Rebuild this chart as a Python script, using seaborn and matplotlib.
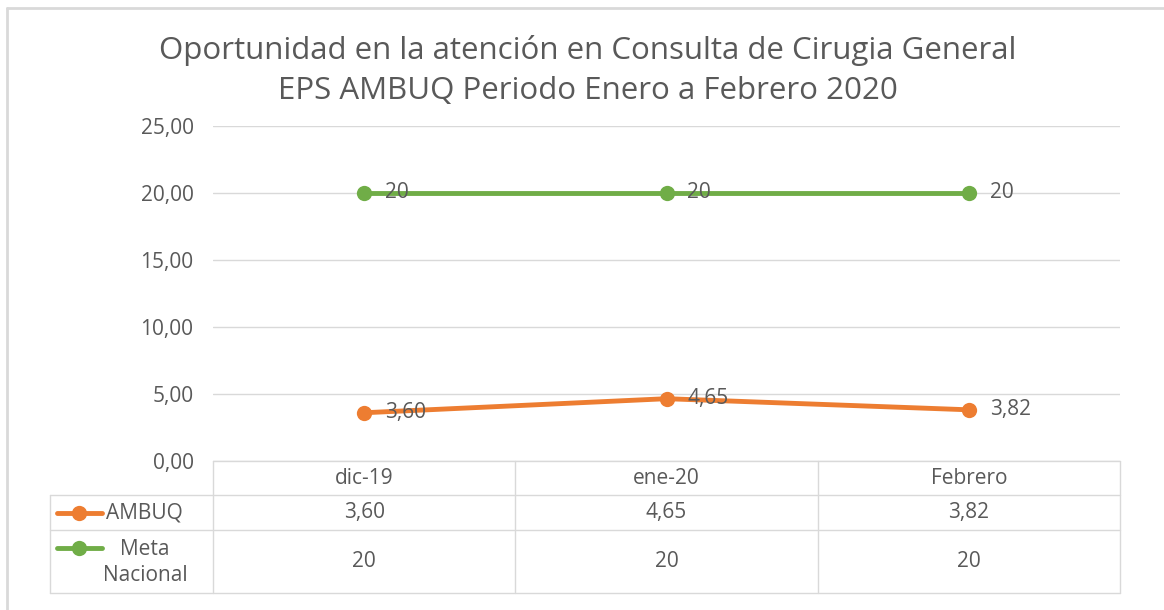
import pandas as pd
import matplotlib.pyplot as plt
from matplotlib.lines import Line2D
import seaborn as sns

# === DATOS ===
periodos = ["dic-19", "ene-20", "Febrero"]
ambuq = [3.60, 4.65, 3.82]
meta_nacional = [20, 20, 20]
series = ["AMBUQ", "Meta Nacional"]
colores = ["#ED7D31", "#70AD47"]
etiquetas_tabla = [["3,60", "4,65", "3,82"], ["20", "20", "20"]]
yticks = [0, 5, 10, 15, 20, 25]
titulo = "Oportunidad en la atención en Consulta de Cirugia General\nEPS AMBUQ Periodo Enero a Febrero 2020"

df = pd.DataFrame({
    "Periodo": periodos * 2,
    "Valor": ambuq + meta_nacional,
    "Serie": ["AMBUQ"] * 3 + ["Meta Nacional"] * 3,
})

sns.set_style("white")
plt.rcParams["font.family"] = ["Open Sans", "DejaVu Sans"]
txt = "#595959"
grid = "#D9D9D9"
fs = 15

W, H = 1164, 610
fig = plt.figure(figsize=(W / 100, H / 100), dpi=100)

# zona del grafico en pixeles
x0, x1, ytop, ybot = 213, 1120, 126, 461
ax = fig.add_axes([x0 / W, 1 - ybot / H, (x1 - x0) / W, (ybot - ytop) / H])

sns.lineplot(data=df, x="Periodo", y="Valor", hue="Serie", palette=colores,
             marker="o", markersize=11, markeredgewidth=0, linewidth=3.5,
             sort=False, legend=False, ax=ax)

ax.set_xlim(-0.5, len(periodos) - 0.5)
ax.set_ylim(0, 25)
ax.set_yticks(yticks)
ax.set_yticklabels([f"{v:.2f}".replace(".", ",") for v in yticks], fontsize=fs, color=txt)
ax.tick_params(axis="y", length=0, pad=14)
ax.set_xticks([])
ax.set_xlabel("")
ax.set_ylabel("")
ax.grid(axis="y", color=grid, linewidth=1)
for s in ax.spines.values():
    s.set_visible(False)

# etiquetas de datos
for vals, labs in zip([ambuq, meta_nacional], etiquetas_tabla):
    for i, (v, l) in enumerate(zip(vals, labs)):
        ax.annotate(l, (i, v), xytext=(15, 0), textcoords="offset points",
                    ha="left", va="center", fontsize=fs, color=txt)

fig.suptitle(titulo, x=588 / W, y=1 - 35 / H, va="top", fontsize=22.5, color=txt, linespacing=1.42)

# === TABLA DE DATOS ===
ov = fig.add_axes([0, 0, 1, 1])
ov.set_xlim(0, W)
ov.set_ylim(H, 0)
ov.axis("off")
ov.patch.set_alpha(0)

col_w = (x1 - x0) / len(periodos)
rows = [461, 495, 530, 593]
left = 50
for i in range(len(periodos) + 1):
    ov.plot([x0 + i * col_w] * 2, [rows[0], rows[-1]], color=grid, lw=1)
ov.plot([left, left], [rows[1], rows[-1]], color=grid, lw=1)
ov.plot([x0, x1], [rows[0]] * 2, color=grid, lw=1)
for r in rows[1:]:
    ov.plot([left, x1], [r] * 2, color=grid, lw=1)

for i, p in enumerate(periodos):
    cx = x0 + (i + 0.5) * col_w
    ov.text(cx, (rows[0] + rows[1]) / 2, p, ha="center", va="center", fontsize=fs, color=txt)
    for j in range(2):
        ov.text(cx, (rows[j + 1] + rows[j + 2]) / 2, etiquetas_tabla[j][i],
                ha="center", va="center", fontsize=fs, color=txt)

# leyenda dentro de la tabla
for j, (nombre, c) in enumerate(zip(series, colores)):
    cy = (rows[j + 1] + rows[j + 2]) / 2
    ly = cy if j == 0 else rows[2] + 18
    ov.add_line(Line2D([57, 102], [ly, ly], color=c, lw=3.5))
    ov.plot([79], [ly], "o", color=c, markersize=11, markeredgewidth=0)
    if j == 0:
        ov.text(106, cy, "AMBUQ", ha="left", va="center", fontsize=fs, color=txt)
    else:
        ov.text(145, cy + 1, "Meta\nNacional", ha="center", va="center", fontsize=fs,
                color=txt, linespacing=1.3)

# marco exterior
ov.plot([7, W], [8, 8], color=grid, lw=2)
ov.plot([7, 7], [8, H], color=grid, lw=2)

plt.savefig("out.png", dpi=100)
plt.close()
